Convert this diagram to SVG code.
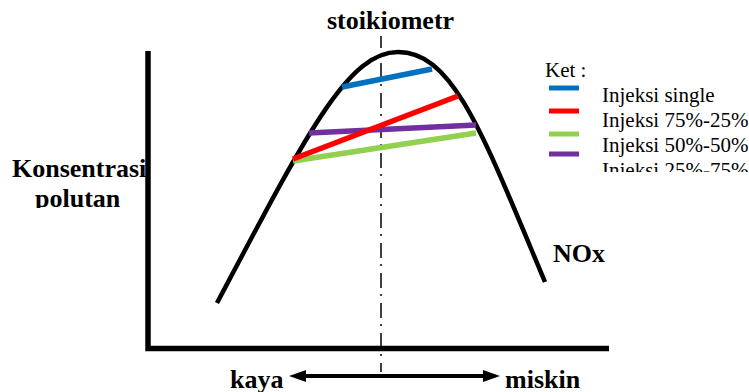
<svg xmlns="http://www.w3.org/2000/svg" width="749" height="392" viewBox="0 0 749 392">
<style>
.lbl{font-family:"Liberation Serif","DejaVu Serif",serif;font-weight:bold;font-size:26px;fill:#000}
.leg{font-family:"Liberation Serif","DejaVu Serif",serif;font-size:21px;fill:#000}
.ax{fill:none;stroke:#000;stroke-width:5.5}
.inj{fill:none;stroke-width:5.5;stroke-linecap:butt}
.sw{stroke-width:5}
.blue{stroke:#0070c0}
.red{stroke:#ff0000}
.green{stroke:#92d050}
.purple{stroke:#7030a0}
</style>
<defs>
<marker id="ah" markerUnits="userSpaceOnUse" markerWidth="17" markerHeight="12" refX="6" refY="6" orient="auto-start-reverse">
<path d="M0,0 L17,6 L0,12 Z" fill="#000"/>
</marker>
<clipPath id="clipPol"><rect x="0" y="180" width="200" height="28"/></clipPath>
<clipPath id="clipLeg"><rect x="590" y="60" width="159" height="112"/></clipPath>
</defs>
<rect width="749" height="392" fill="#fff"/>
<g id="ylabel">
<text class="lbl" x="12" y="177">Konsentrasi</text>
<text class="lbl" x="35" y="207" clip-path="url(#clipPol)">polutan</text>
</g>
<g id="axes">
<polyline class="ax" points="148,51 148,348.5 609,348.5"/>
</g>
<g id="stoich">
<text class="lbl" x="327" y="29">stoikiometr</text>
<line x1="381" y1="36" x2="381" y2="372" stroke="#000" stroke-width="1.5" stroke-dasharray="15 6 2 7" stroke-dashoffset="3"/>
</g>
<g id="nox-curve">
<path d="M217,303 C307,133 348,52 398,52 C453,52 482,132 545,282" fill="none" stroke="#000" stroke-width="4.5"/>
<text class="lbl" x="553" y="262">NOx</text>
</g>
<g id="connectors">
<line class="inj blue" x1="342" y1="87" x2="432" y2="69"/>
<line class="inj purple" x1="309" y1="133" x2="476" y2="125"/>
<line class="inj green" x1="293" y1="161" x2="476" y2="133"/>
<line class="inj red" x1="293" y1="159" x2="458" y2="96"/>
<line x1="300" y1="376" x2="489" y2="376" stroke="#000" stroke-width="4" marker-start="url(#ah)" marker-end="url(#ah)"/>
</g>
<g id="xlabels">
<text class="lbl" x="230" y="388">kaya</text>
<text class="lbl" x="505" y="388">miskin</text>
</g>
<g id="legend">
<text class="leg" x="545" y="77">Ket :</text>
<line class="sw blue" x1="549" y1="88" x2="579" y2="88"/>
<line class="sw red" x1="549" y1="111" x2="579" y2="111"/>
<line class="sw green" x1="549" y1="134" x2="579" y2="134"/>
<line class="sw purple" x1="549" y1="154" x2="579" y2="154"/>
<g clip-path="url(#clipLeg)">
<text class="leg" x="602" y="102">Injeksi single</text>
<text class="leg" x="602" y="127">Injeksi 75%-25%</text>
<text class="leg" x="602" y="152">Injeksi 50%-50%</text>
<text class="leg" x="602" y="177">Injeksi 25%-75%</text>
</g>
</g>
</svg>
